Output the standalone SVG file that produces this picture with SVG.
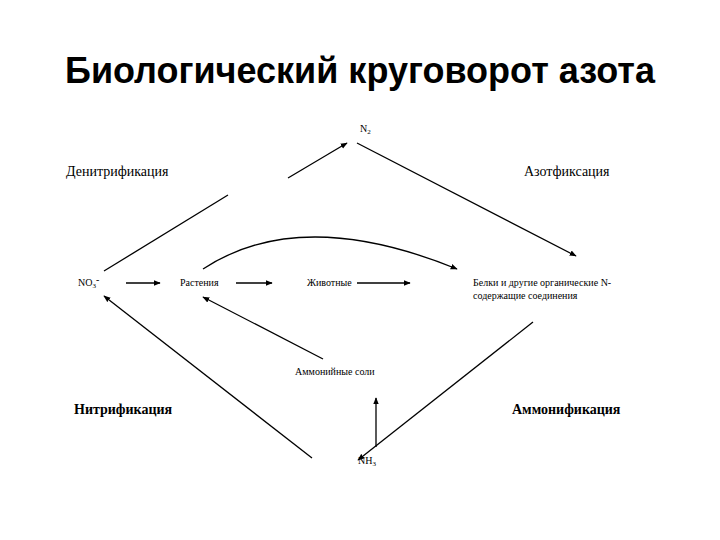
<svg xmlns="http://www.w3.org/2000/svg" width="720" height="540" viewBox="0 0 720 540">
<style>
.t{font-family:"Liberation Serif",serif;font-size:10px;fill:#000}
.l{font-family:"Liberation Serif",serif;font-size:14px;fill:#000}
.b{font-family:"Liberation Serif",serif;font-size:14px;font-weight:bold;fill:#000}
.c line,.c path{stroke:#000;stroke-width:1.3;fill:none}
</style>
<defs><marker id="a" viewBox="0 0 10 10" refX="9" refY="5" markerWidth="7" markerHeight="7" orient="auto" markerUnits="userSpaceOnUse"><path d="M0,1 L10,5 L0,9 z" fill="#000"/></marker></defs>
<rect width="720" height="540" fill="#fff"/>
<text x="360" y="83" text-anchor="middle" font-family="Liberation Sans,sans-serif" font-size="36" font-weight="bold">Биологический круговорот азота</text>
<g id="n2"><text class="t" x="360" y="132">N<tspan font-size="7" dy="2">2</tspan></text></g>
<g id="denit"><text class="l" x="66" y="176">Денитрификация</text></g>
<g id="azot"><text class="l" x="524" y="176">Азотфиксация</text></g>
<g id="no3"><text class="t" x="78" y="286">NO<tspan font-size="7" dy="2">3</tspan><tspan dy="-5">-</tspan></text></g>
<g id="rast"><text class="t" x="180" y="286">Растения</text></g>
<g id="zhiv"><text class="t" x="307" y="286">Животные</text></g>
<g id="belki"><text class="t" x="473" y="286">Белки и другие органические N-</text><text class="t" x="473" y="299">содержащие соединения</text></g>
<g id="amsol"><text class="t" x="295" y="375">Аммонийные соли</text></g>
<g id="nitr"><text class="b" x="74" y="414">Нитрификация</text></g>
<g id="ammon"><text class="b" x="512" y="414">Аммонификация</text></g>
<g id="nh3"><text class="t" x="358" y="464">NH<tspan font-size="7" dy="2">3</tspan></text></g>
<g class="c" id="connectors">
<line x1="104" y1="271" x2="228" y2="195"/>
<line x1="288" y1="178" x2="347" y2="143" marker-end="url(#a)"/>
<line x1="357" y1="143" x2="576" y2="256" marker-end="url(#a)"/>
<path d="M203,269 Q300,205 457,269" marker-end="url(#a)"/>
<line x1="126" y1="283" x2="160" y2="283" marker-end="url(#a)"/>
<line x1="236" y1="283" x2="272" y2="283" marker-end="url(#a)"/>
<line x1="357" y1="283" x2="410" y2="283" marker-end="url(#a)"/>
<line x1="323" y1="359" x2="203" y2="297" marker-end="url(#a)"/>
<line x1="312" y1="458" x2="104" y2="296" marker-end="url(#a)"/>
<line x1="376" y1="447" x2="376" y2="398" marker-end="url(#a)"/>
<line x1="533" y1="322" x2="358" y2="460" marker-end="url(#a)"/>
</g>
</svg>
